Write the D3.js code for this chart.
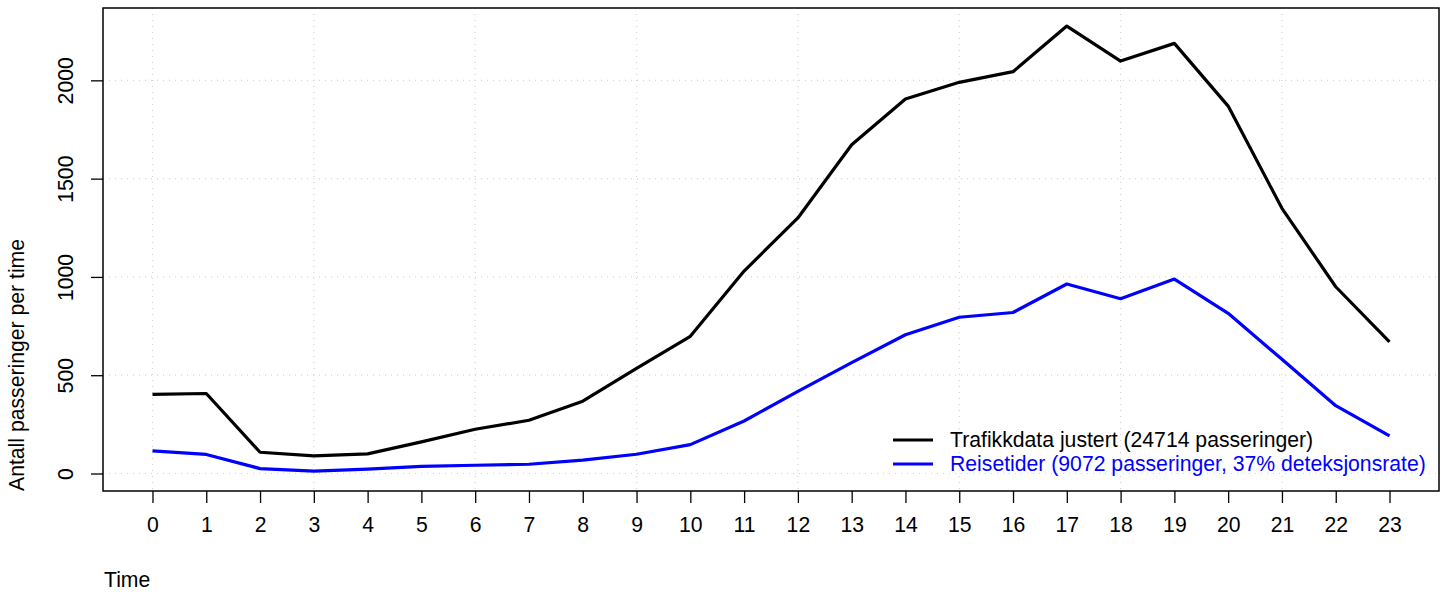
<!DOCTYPE html>
<html><head><meta charset="utf-8">
<script src="https://cdn.jsdelivr.net/npm/d3@7"></script>
<style>body{margin:0;background:#fff}svg{display:block}text{font-family:"Liberation Sans",Arial,sans-serif}</style>
</head><body><svg id="c" width="1449" height="596"></svg>
<script>
const hours = d3.range(0, 24);
const trafikk = [403,407,108,90,100,161,225,271,368,535,698,1030,1300,1672,1905,1990,2044,2276,2098,2188,1869,1349,950,670];
const reisetider = [115,97,25,12,22,36,42,47,68,98,147,267,418,564,706,795,819,964,889,989,815,581,345,191];
const yTicks = [0,500,1000,1500,2000];
const gridX = [0,3,6,9,12,15,18,21];
const legendLabels = ["Trafikkdata justert (24714 passeringer)","Reisetider (9072 passeringer, 37% deteksjonsrate)"];
const colors = ["#000000","#0000ff"];
const FS = 21.2;

const svg = d3.select("#c");
const L=103,R=1439,T=8,B=491;
const x = d3.scaleLinear().domain([-0.92,23.92]).range([L,R]);
const y = d3.scaleLinear().domain([-89,2368]).range([B,T]);

// grid
const g = svg.append("g").attr("stroke","#d3d3d3").attr("stroke-dasharray","1,5").attr("stroke-width",1.2);
gridX.forEach(h=>g.append("line").attr("x1",x(h)).attr("x2",x(h)).attr("y1",T).attr("y2",B));
yTicks.forEach(v=>g.append("line").attr("x1",L).attr("x2",R).attr("y1",y(v)).attr("y2",y(v)));

// axes
const xa = svg.append("g").attr("transform",`translate(0,${B})`)
  .call(d3.axisBottom(x).tickValues(hours).tickFormat(d3.format("d")).tickSize(12).tickPadding(14));
const ya = svg.append("g").attr("transform",`translate(${L},0)`)
  .call(d3.axisLeft(y).tickValues(yTicks).tickFormat(d3.format("d")).tickSize(12).tickPadding(14));
[xa,ya].forEach(a=>{a.attr("font-size",FS).attr("font-family","Liberation Sans, Arial, sans-serif");
  a.select(".domain").remove();a.selectAll("line").attr("stroke","#000").attr("stroke-width",1.3);
  a.selectAll("text").attr("fill","#000");});
ya.selectAll(".tick text").attr("x",null).attr("dy","0.35em").attr("text-anchor","middle")
  .attr("transform","translate(-37,0) rotate(-90)");

// box
svg.append("rect").attr("x",L).attr("y",T).attr("width",R-L).attr("height",B-T).attr("fill","none").attr("stroke","#000").attr("stroke-width",1.5);

// lines
const line = d3.line().x((d,i)=>x(hours[i])).y(d=>y(d));
[trafikk,reisetider].forEach((s,i)=>svg.append("path").datum(s).attr("d",line).attr("fill","none")
  .attr("stroke",colors[i]).attr("stroke-width",3.2).attr("stroke-linejoin","round"));

// labels
svg.append("text").attr("x",104).attr("y",587).attr("font-size",FS).text("Time");
svg.append("text").attr("transform",`translate(24,${B}) rotate(-90)`).attr("text-anchor","start").attr("font-size",FS).text("Antall passeringer per time");

// legend
legendLabels.forEach((lab,i)=>{
  const yy = 440 + i*24;
  svg.append("line").attr("x1",893).attr("x2",933).attr("y1",yy).attr("y2",yy).attr("stroke",colors[i]).attr("stroke-width",3.2);
  svg.append("text").attr("x",950).attr("y",yy).attr("dy","0.35em").attr("font-size",FS).attr("fill",colors[i]).text(lab);
});
</script></body></html>
